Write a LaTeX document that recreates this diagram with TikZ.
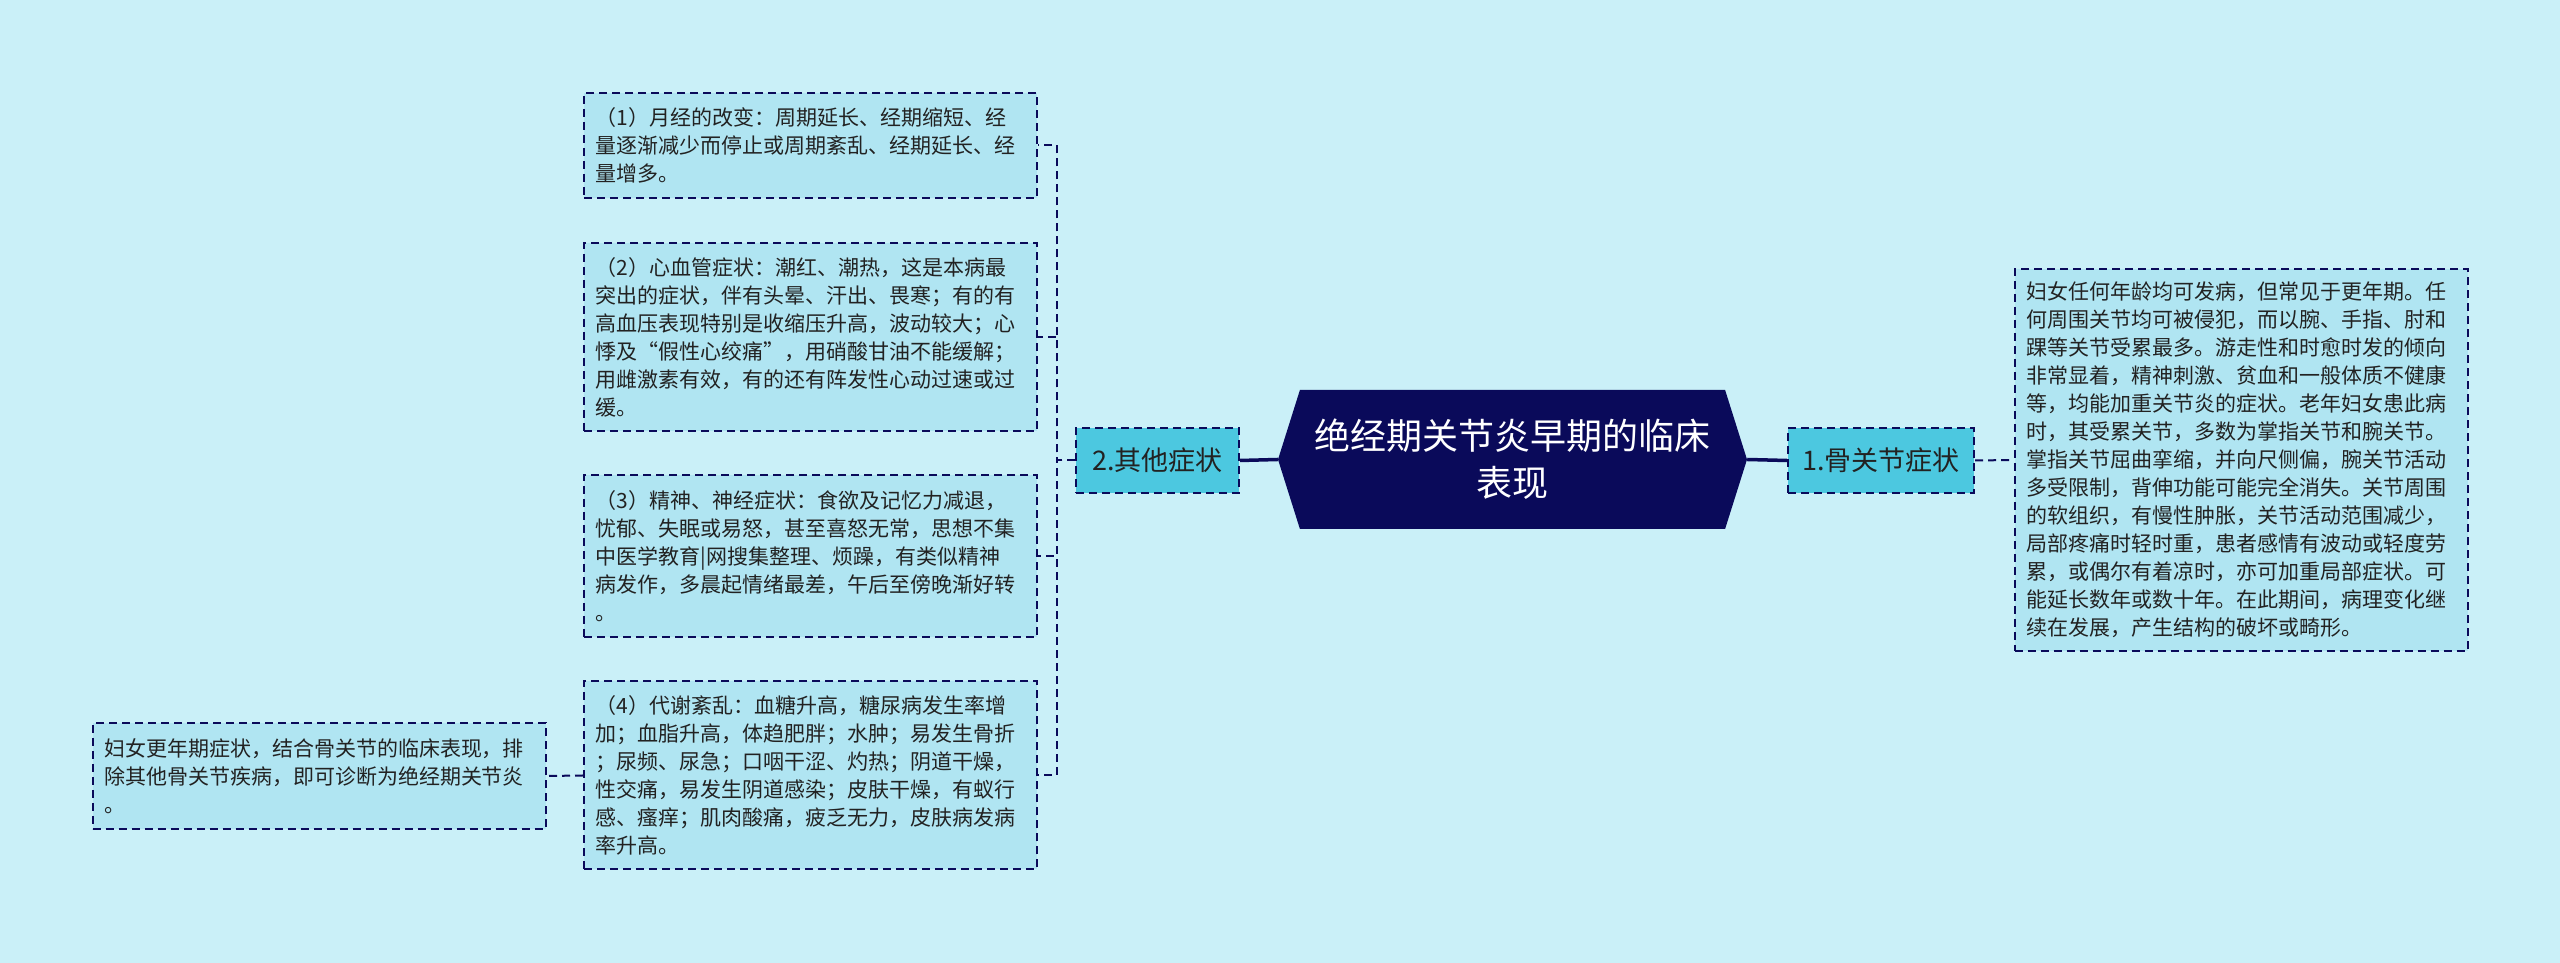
\documentclass[tikz,border=0pt]{standalone}
\usepackage{fontspec}
\setmainfont{Noto Sans CJK SC}
\usetikzlibrary{shapes.symbols}
\definecolor{bgcol}{RGB}{202,240,248}
\definecolor{boxcol}{RGB}{176,229,242}
\definecolor{subcol}{RGB}{76,200,224}
\definecolor{navy}{RGB}{10,10,90}
\definecolor{txtcol}{RGB}{34,34,34}
\tikzset{
  leaf/.style={draw=navy, fill=boxcol, dash pattern=on 8pt off 5pt, line width=2pt,
    text width=430pt, inner xsep=11.5pt, inner ysep=0pt, align=left, text=txtcol,
    font=\fontsize{21}{28}\selectfont},
  sub/.style={draw=navy, fill=subcol, dash pattern=on 8pt off 5pt, line width=2pt,
    inner sep=0pt, minimum height=65pt, text=txtcol, font=\fontsize{27}{32}\selectfont},
  rootnode/.style={shape=signal, signal to=east and west, signal pointer angle=145,
    fill=navy, text=white, align=center, inner sep=0pt, minimum width=469pt,
    minimum height=139pt, font=\fontsize{36}{47}\selectfont},
  link/.style={draw=navy, line width=2pt, dash pattern=on 8pt off 5pt},
  trunk/.style={draw=navy, line width=3.5pt}
}
\begin{document}
\begin{tikzpicture}[x=1pt,y=1pt]
\fill[bgcol] (0,0) rectangle (2560,963);
\useasboundingbox (0,0) rectangle (2560,963);
% centre and the two branches
\node[rootnode] (root) at (1512.5,503.5) {绝经期关节炎早期的临床\\表现};
\node[sub, minimum width=163pt] (other) at (1157.5,502.5) {2.其他症状};
\node[sub, minimum width=186pt] (bone) at (1881,502.5) {1.骨关节症状};
% right side
\node[leaf, minimum height=382pt] (rbox) at (2241,503) {妇女任何年龄均可发病，但常见于更年期。任\\
何周围关节均可被侵犯，而以腕、手指、肘和\\
踝等关节受累最多。游走性和时愈时发的倾向\\
非常显着，精神刺激、贫血和一般体质不健康\\
等，均能加重关节炎的症状。老年妇女患此病\\
时，其受累关节，多数为掌指关节和腕关节。\\
掌指关节屈曲挛缩，并向尺侧偏，腕关节活动\\
多受限制，背伸功能可能完全消失。关节周围\\
的软组织，有慢性肿胀，关节活动范围减少，\\
局部疼痛时轻时重，患者感情有波动或轻度劳\\
累，或偶尔有着凉时，亦可加重局部症状。可\\
能延长数年或数十年。在此期间，病理变化继\\
续在发展，产生结构的破坏或畸形。};
% left side
\node[leaf, minimum height=105pt] (m1) at (810.5,817.5) {（1）月经的改变：周期延长、经期缩短、经\\
量逐渐减少而停止或周期紊乱、经期延长、经\\
量增多。};
\node[leaf, minimum height=188pt] (m2) at (810.5,626) {（2）心血管症状：潮红、潮热，这是本病最\\
突出的症状，伴有头晕、汗出、畏寒；有的有\\
高血压表现特别是收缩压升高，波动较大；心\\
悸及“假性心绞痛”，用硝酸甘油不能缓解；\\
用雌激素有效，有的还有阵发性心动过速或过\\
缓。};
\node[leaf, minimum height=162pt] (m3) at (810.5,407) {（3）精神、神经症状：食欲及记忆力减退，\\
忧郁、失眠或易怒，甚至喜怒无常，思想不集\\
中医学教育|网搜集整理、烦躁，有类似精神\\
病发作，多晨起情绪最差，午后至傍晚渐好转\\
。};
\node[leaf, minimum height=188pt] (m4) at (810.5,187.5) {（4）代谢紊乱：血糖升高，糖尿病发生率增\\
加；血脂升高，体趋肥胖；水肿；易发生骨折\\
；尿频、尿急；口咽干涩、灼热；阴道干燥，\\
性交痛，易发生阴道感染；皮肤干燥，有蚁行\\
感、瘙痒；肌肉酸痛，疲乏无力，皮肤病发病\\
率升高。};
\node[leaf, minimum height=106pt] (diag) at (319,187) {妇女更年期症状，结合骨关节的临床表现，排\\
除其他骨关节疾病，即可诊断为绝经期关节炎\\
。};
% connectors
\draw[trunk] (root.west) -- (other.east);
\draw[trunk] (root.east) -- (bone.west);
\draw[link] (bone.east) -- (rbox.west);
\foreach \m in {m1,m2,m3,m4}
  \draw[link] (other.west) -- ++(-18,0) |- (\m.east);
\draw[link] (m4.west) -- (diag.east);
\end{tikzpicture}
\end{document}
